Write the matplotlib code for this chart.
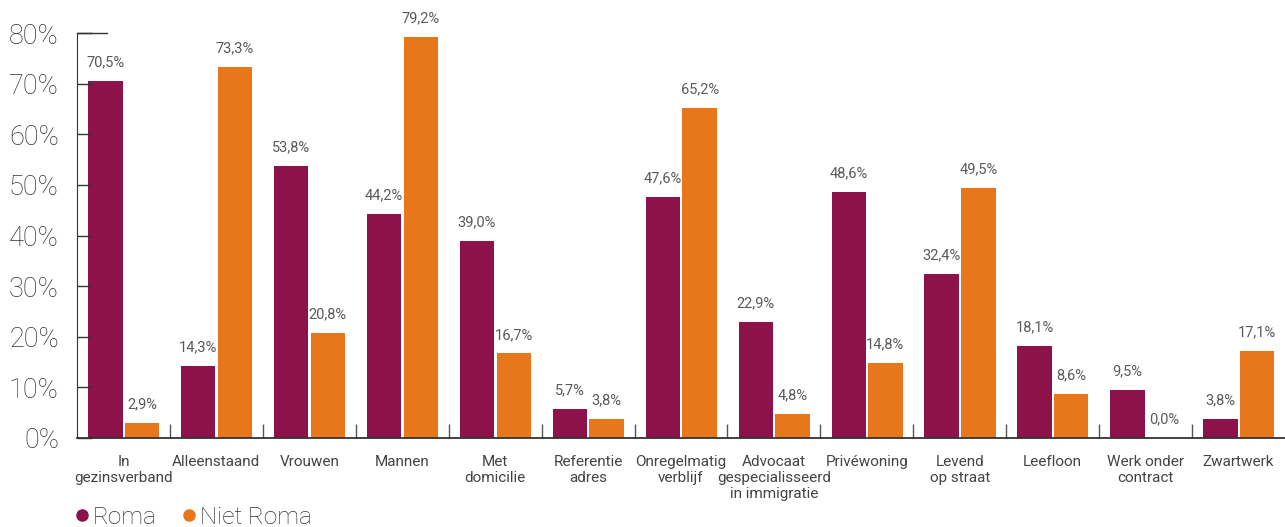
import matplotlib.pyplot as plt
import numpy as np
from matplotlib.lines import Line2D

plt.rcParams['font.family'] = ['Roboto', 'DejaVu Sans']

categories = ["In\ngezinsverband", "Alleenstaand", "Vrouwen", "Mannen", "Met\ndomicilie",
              "Referentie\nadres", "Onregelmatig\nverblijf",
              "Advocaat\ngespecialisseerd\nin immigratie", "Privéwoning",
              "Levend\nop straat", "Leefloon", "Werk onder\ncontract", "Zwartwerk"]
roma = [70.5, 14.3, 53.8, 44.2, 39.0, 5.7, 47.6, 22.9, 48.6, 32.4, 18.1, 9.5, 3.8]
niet_roma = [2.9, 73.3, 20.8, 79.2, 16.7, 3.8, 65.2, 4.8, 14.8, 49.5, 8.6, 0.0, 17.1]

c_roma = "#8C1249"
c_niet = "#E8761B"
txt = "#444444"

fig = plt.figure(figsize=(12.85, 5.27), dpi=100)
ax = fig.add_axes([0.0599, 0.169, 0.9401, 0.768])

x = np.arange(len(categories))
w = 0.37
ax.bar(x - 0.195, roma, w, color=c_roma)
ax.bar(x + 0.2, niet_roma, w, color=c_niet)

def fmt(v):
    return ("%.1f%%" % v).replace(".", ",")

for i in range(len(categories)):
    ax.text(x[i] - 0.195, roma[i] + 2.3, fmt(roma[i]), ha='center', va='bottom',
            fontsize=10.5, color="#5a5a5a")
    ax.text(x[i] + 0.2, niet_roma[i] + 2.3, fmt(niet_roma[i]), ha='center', va='bottom',
            fontsize=10.5, color="#5a5a5a")

ax.set_xlim(-0.5, len(categories) - 0.5)
ax.set_ylim(0, 80)
ax.set_yticks(np.arange(0, 81, 10))
ax.set_yticklabels(["%d%%" % v for v in range(0, 81, 10)], fontsize=19.5,
                   color="#333333", fontweight='light')
ax.tick_params(axis='y', direction='in', length=11, width=1, pad=13, colors='#333',
               labelcolor="#333333")
ax.set_xticks(x)
ax.set_xticklabels(categories, fontsize=11, color=txt, fontweight='normal',
                   linespacing=1.2)
ax.tick_params(axis='x', length=0, pad=12)
# separator ticks between groups
ax.set_xticks(x[:-1] + 0.5, minor=True)
ax.tick_params(axis='x', which='minor', direction='in', length=10, width=1, colors='#555')

for s in ['top', 'right']:
    ax.spines[s].set_visible(False)
ax.spines['left'].set_color('#333')
ax.spines['bottom'].set_color('#333')
ax.spines['bottom'].set_linewidth(1.3)
ax.plot([-0.5, -0.175], [80, 80], color='#333', lw=1, clip_on=False)

handles = [Line2D([], [], marker='o', ls='', color=c_roma, markersize=8, label='Roma'),
           Line2D([], [], marker='o', ls='', color=c_niet, markersize=8, label='Niet Roma')]
leg = fig.legend(handles=handles, loc='lower left', bbox_to_anchor=(0.037, -0.045), ncol=2,
                 frameon=False, fontsize=17.5, handletextpad=-0.05, columnspacing=0.85,
                 handlelength=1.0)
for t in leg.get_texts():
    t.set_color("#333333")
    t.set_fontweight('light')

fig.savefig("out.png", dpi=100)
